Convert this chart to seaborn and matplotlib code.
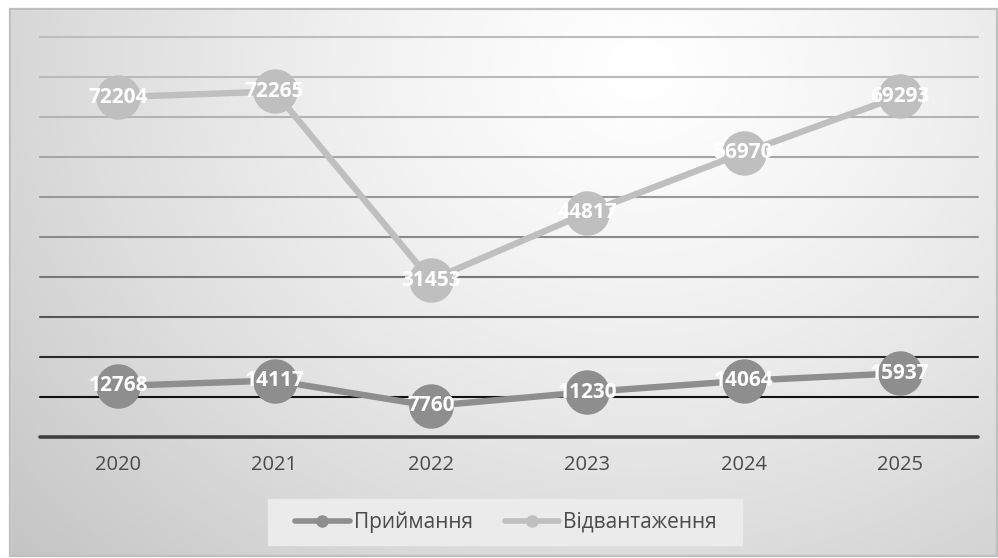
import numpy as np
import pandas as pd
import matplotlib
matplotlib.use("Agg")
import matplotlib.pyplot as plt
from matplotlib.lines import Line2D
from matplotlib.patches import Rectangle
import seaborn as sns

years = ["2020", "2021", "2022", "2023", "2024", "2025"]
pryimannia = [12768, 14117, 7760, 11230, 14064, 15937]
vidvantazhennia = [72204, 72265, 31453, 44817, 56970, 69293]
series_names = ["Приймання", "Відвантаження"]
y_ticks = list(range(0, 100001, 10000))

sns.set_theme(style="white")
plt.rcParams["font.family"] = ["Open Sans", "DejaVu Sans"]

W, H, DPI = 998, 558, 100
fig = plt.figure(figsize=(W / DPI, H / DPI), dpi=DPI)
fig.patch.set_facecolor("white")

# radial grey background of the chart area
bg = fig.add_axes([0, 0, 1, 1], zorder=-10)
yy, xx = np.mgrid[0:H, 0:W]
cx, cy = 640, 70
r = np.sqrt(((xx - cx) / 1.0) ** 2 + ((yy - cy) / 0.85) ** 2)
val = 1.0 - 0.20 * np.clip(r / 760.0, 0, 1.2) ** 1.3
img = np.dstack([val, val, val])
bg.imshow(img, extent=[0, W, H, 0], aspect="auto", interpolation="bilinear")
bg.set_xlim(0, W)
bg.set_ylim(H, 0)
bg.axis("off")
# white margins outside the chart frame
bg.add_patch(Rectangle((0, 0), W, 9, color="white", zorder=2))
bg.add_patch(Rectangle((0, 0), 10, H, color="white", zorder=2))
bg.add_patch(Rectangle((0, 556), W, 3, color="white", zorder=2))
bg.add_patch(Rectangle((10, 9), W - 11, 547, fill=False, edgecolor="#bfbfbf", lw=1.6, zorder=3))
# legend box
bg.add_patch(Rectangle((268, 499), 474, 46, color="#ebebeb", zorder=2))

left, right, top_px, bot_px = 40, 978, 37, 437
ax = fig.add_axes([left / W, 1 - bot_px / H, (right - left) / W, (bot_px - top_px) / H])
ax.set_facecolor("none")

x = np.arange(len(years))
stacked_top = np.array(pryimannia) + np.array(vidvantazhennia)
df = pd.DataFrame({"x": x, "p": pryimannia, "v": stacked_top})

# horizontal grid lines, darkening towards the base
grid_colors = ["#404040", "#111111", "#2a2a2a", "#555555", "#777777", "#8a8a8a",
               "#999999", "#a6a6a6", "#b3b3b3", "#bababa", "#bdbdbd"]
for yv, c in zip(y_ticks, grid_colors):
    ax.axhline(yv, color=c, lw=2.6 if yv == 0 else 1.5, zorder=1, clip_on=False)

dark, light = "#8e8e8e", "#bfbfbf"
sns.lineplot(data=df, x="x", y="p", ax=ax, color=dark, lw=4.6, marker="o",
             markersize=32, markeredgewidth=0, zorder=3, legend=False)
sns.lineplot(data=df, x="x", y="v", ax=ax, color=light, lw=4.6, marker="o",
             markersize=32, markeredgewidth=0, zorder=4, legend=False)

for xi, yv, lab in zip(x, pryimannia, pryimannia):
    ax.text(xi, yv, f"{lab}", ha="center", va="center", color="white",
            fontsize=15, fontweight="bold", zorder=6)
for xi, yv, lab in zip(x, stacked_top, vidvantazhennia):
    ax.text(xi, yv, f"{lab}", ha="center", va="center", color="white",
            fontsize=15, fontweight="bold", zorder=6)

ax.set_xlim(-0.5, len(years) - 0.5)
ax.set_ylim(0, 100000)
ax.set_xticks(x)
ax.set_xticklabels(years, fontsize=14.5, color="#4a4a4a")
ax.tick_params(axis="x", length=0, pad=13)
ax.set_yticks([])
ax.set_xlabel("")
ax.set_ylabel("")
for s in ax.spines.values():
    s.set_visible(False)

handles = [Line2D([], [], color=dark, lw=4, marker="o", markersize=8),
           Line2D([], [], color=light, lw=4, marker="o", markersize=8)]
ax.legend(handles, series_names, loc="center", bbox_to_anchor=(0.497, -0.213),
          ncol=2, frameon=False, fontsize=15, labelcolor="#4a4a4a",
          handlelength=2.6, handletextpad=0.2, columnspacing=1.55)

fig.savefig("out.png", dpi=DPI)
